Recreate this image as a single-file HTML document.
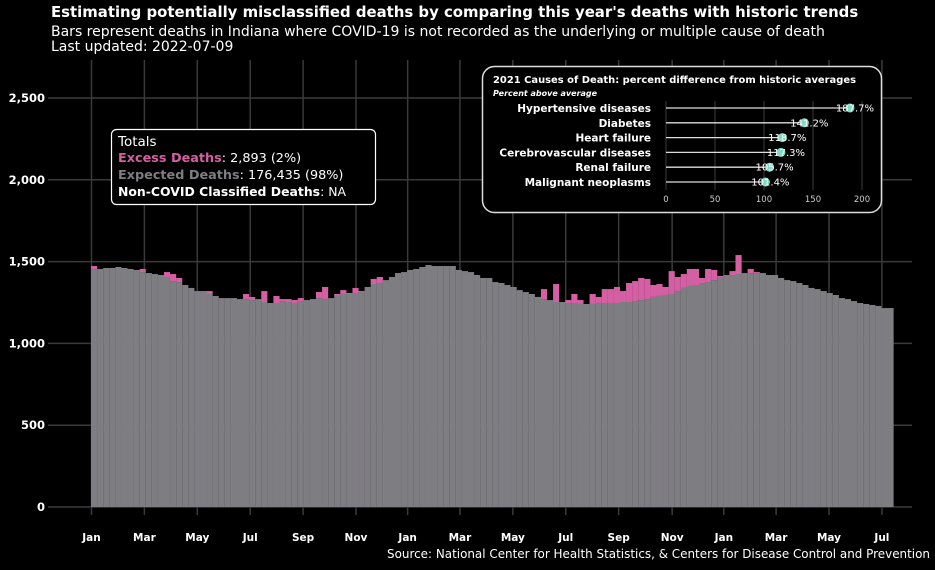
<!DOCTYPE html>
<html><head><meta charset="utf-8"><style>
html,body{margin:0;padding:0;background:#000;}
body{width:935px;height:566px;overflow:hidden;font-family:"DejaVu Sans","Liberation Sans",sans-serif;}
svg text{font-family:"DejaVu Sans","Liberation Sans",sans-serif;}
</style></head><body>
<svg id="chart" width="935" height="566" viewBox="0 0 935 566" xmlns="http://www.w3.org/2000/svg">
<rect x="0" y="0" width="935" height="566" fill="#000"/>
<text x="51" y="17" fill="#fff" font-size="14.9" font-weight="bold">Estimating potentially misclassified deaths by comparing this year's deaths with historic trends</text>
<text x="51" y="36" fill="#fff" font-size="14">Bars represent deaths in Indiana where COVID-19 is not recorded as the underlying or multiple cause of death</text>
<text x="51" y="51" fill="#fff" font-size="14">Last updated: 2022-07-09</text>
<g id="grid"></g>
<g id="bars"></g>
<g id="yaxis"></g>
<g id="xaxis"></g>
<g>
<rect x="111.5" y="129.5" width="264" height="75" rx="5" fill="#000" stroke="#fff" stroke-width="1.2"/>
<text x="118" y="146" fill="#fff" font-size="13.5">Totals</text>
<text x="118" y="162" fill="#fff" font-size="12.8"><tspan fill="#d45fa3" font-weight="bold">Excess Deaths</tspan>: 2,893 (2%)</text>
<text x="118" y="179" fill="#fff" font-size="12.8"><tspan fill="#7e7d82" font-weight="bold">Expected Deaths</tspan>: 176,435 (98%)</text>
<text x="118" y="196" fill="#fff" font-size="12.8" textLength="228" lengthAdjust="spacingAndGlyphs"><tspan font-weight="bold">Non-COVID Classified Deaths</tspan>: NA</text>
</g>
<g>
<rect x="482.5" y="66.5" width="399" height="146" rx="12" fill="#000" stroke="#ddd" stroke-width="1.5"/>
<text x="493" y="83" fill="#fff" font-size="10" font-weight="bold" textLength="363" lengthAdjust="spacingAndGlyphs">2021 Causes of Death: percent difference from historic averages</text>
<text x="493" y="96" fill="#fff" font-size="8" font-weight="bold" font-style="italic">Percent above average</text>
<g id="inset"></g>
</g>
<text x="930" y="558" fill="#fff" font-size="12" text-anchor="end" textLength="543" lengthAdjust="spacingAndGlyphs">Source: National Center for Health Statistics, &amp; Centers for Disease Control and Prevention</text>
</svg>
<script>
const expected = [1451,1455,1461,1461,1467,1461,1455,1449,1436,1430,1424,1418,1406,1381,1375,1357,1339,1320,1320,1302,1290,1277,1277,1277,1271,1271,1265,1271,1253,1247,1247,1259,1253,1247,1259,1265,1271,1277,1271,1277,1290,1302,1302,1308,1314,1345,1363,1369,1387,1406,1430,1436,1449,1455,1467,1479,1473,1473,1473,1473,1449,1442,1436,1418,1400,1400,1375,1369,1357,1345,1326,1314,1302,1284,1271,1265,1253,1253,1247,1247,1241,1241,1241,1247,1247,1247,1247,1253,1253,1259,1265,1271,1284,1290,1296,1302,1320,1339,1351,1357,1369,1375,1387,1406,1418,1418,1424,1430,1430,1430,1430,1418,1418,1400,1387,1381,1369,1357,1339,1332,1320,1308,1296,1277,1271,1259,1247,1241,1235,1229,1216,1216];
const excessWeeks = [1,9,13,14,15,19,20,26,27,29,31,32,33,34,35,38,39,41,42,43,44,45,47,48,75,77,79,80,81,83,84,85,86,87,88,89,90,91,92,93,94,95,96,97,98,99,100,101,102,103,104,106,107,109,110,113];
const observedAtWeeks = [1473,1455,1436,1424,1400,1320,1320,1302,1284,1320,1290,1271,1271,1265,1277,1314,1345,1302,1326,1308,1339,1320,1394,1406,1332,1363,1265,1302,1265,1302,1284,1332,1332,1345,1320,1369,1381,1400,1394,1357,1363,1345,1442,1406,1424,1455,1455,1400,1455,1449,1412,1442,1540,1455,1436,1418];
const yTicks = [0,500,1000,1500,2000,2500];
const yTickLabels = ["0","500","1,000","1,500","2,000","2,500"];
const xTickWeeks = [0,8.7,17.4,26.1,34.8,43.5,52,60.6,69.3,78,86.7,95.5,104,112.6,121.3,130];
const xTickLabels = ["Jan","Mar","May","Jul","Sep","Nov","Jan","Mar","May","Jul","Sep","Nov","Jan","Mar","May","Jul"];
const causes = ["Hypertensive diseases","Diabetes","Heart failure","Cerebrovascular diseases","Renal failure","Malignant neoplasms"];
const causePct = [187.7,141.2,118.7,117.3,105.7,101.4];
const insetTicks = [0,50,100,150,200];

const NS="http://www.w3.org/2000/svg";
function mk(tag,attrs,parent,text){const e=document.createElementNS(NS,tag);for(const k in attrs)e.setAttribute(k,attrs[k]);if(text!==undefined)e.textContent=text;parent.appendChild(e);return e;}
const y=v=>507-v*0.1636;
const x=w=>91+w*6.08;
const grid=document.getElementById('grid'),bars=document.getElementById('bars'),ya=document.getElementById('yaxis'),xa=document.getElementById('xaxis');
yTicks.forEach((t,i)=>{
  const l=mk('line',{x1:48,x2:912,y1:y(t),y2:y(t),stroke:'#3a3a3a','stroke-width':1.5},grid);
  
  
  const tx=mk('text',{x:45,y:y(t)+4,fill:'#fff','font-size':11.5,'font-weight':'bold','text-anchor':'end'},ya,yTickLabels[i]);
  
  
});
xTickWeeks.forEach((w,i)=>{
  const l=mk('line',{x1:x(w)+0.5,x2:x(w)+0.5,y1:60,y2:515,stroke:'#3a3a3a','stroke-width':1.5},grid);
  
  
  const tx=mk('text',{x:x(w)+0.5,y:541,fill:'#fff','font-size':10.5,'font-weight':'bold','text-anchor':'middle'},xa,xTickLabels[i]);
  
  
});
expected.forEach((v,i)=>{
  const idx=excessWeeks.indexOf(i+1);
  const obs=idx>=0?observedAtWeeks[idx]:v;
  const x0=x(i);
  if(obs>v){
    const p=mk('rect',{x:x0,y:y(obs),width:6.15,height:y(v)-y(obs),fill:'#d45fa3'},bars);
    
    
  }
  const g=mk('rect',{x:x0,y:y(v),width:6.15,height:507-y(v),fill:'#7e7d82'},bars);
  
  
});
const inset=document.getElementById('inset');
const ix=p=>666+p*0.98;
insetTicks.forEach(t=>{
  const l=mk('line',{x1:ix(t),x2:ix(t),y1:101,y2:190,stroke:'#333','stroke-width':1.2},inset);
  
  
  const tx=mk('text',{x:ix(t),y:202,fill:'#ccc','font-size':8.5,'text-anchor':'middle'},inset,String(t));
  
  
});
causes.forEach((c,i)=>{
  const cy=108+i*14.8;
  const lb=mk('text',{x:651,y:cy+4,fill:'#fff','font-size':10.5,'font-weight':'bold','text-anchor':'end'},inset,c);
  
  
  const l=mk('line',{x1:ix(0),x2:ix(causePct[i]),y1:cy,y2:cy,stroke:'#ddd','stroke-width':1.3},inset);
  
  
  const d=mk('circle',{cx:ix(causePct[i]),cy:cy,r:4.5,fill:'#7fd9c4'},inset);
  
  
  const v=mk('text',{x:ix(causePct[i])+5,y:cy+3.5,fill:'#fff','font-size':10,'text-anchor':'middle'},inset,causePct[i].toFixed(1)+'%');
  
  
});
</script>
</body></html>
